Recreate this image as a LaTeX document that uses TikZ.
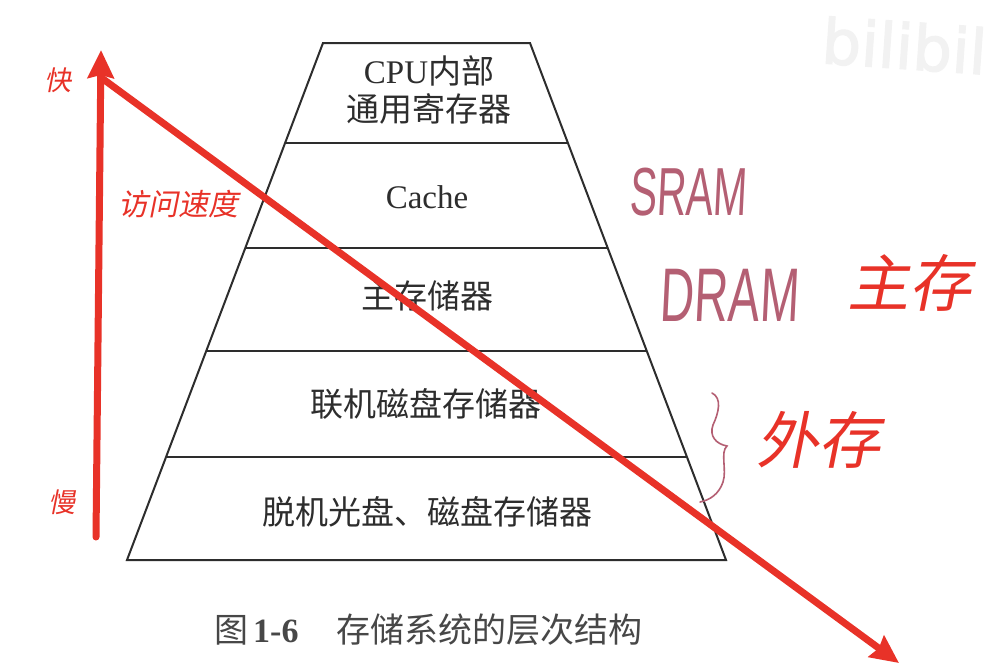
\documentclass[tikz,border=0pt]{standalone}
\usepackage{fontspec}
\usetikzlibrary{arrows.meta}
\setmainfont{Liberation Serif}
\newfontfamily\cjk{Noto Sans CJK SC}
\newfontfamily\cjkslant[FakeSlant=0.2]{Noto Sans CJK SC}
\newfontfamily\handfont[FakeSlant=0.08]{Liberation Sans}
\newfontfamily\wmfont[FakeBold=2]{DejaVu Sans}
\definecolor{annred}{RGB}{232,50,40}
\definecolor{ink}{RGB}{45,45,45}
\definecolor{handink}{RGB}{180,95,115}
\begin{document}
\begin{tikzpicture}[x=1pt,y=-1pt,
  edge/.style={draw=ink, line width=2pt, line join=miter},
  layertext/.style={font=\cjk\fontsize{33}{40}\selectfont, text=ink, inner sep=0pt, align=center},
  redlabel/.style={font=\cjkslant\fontsize{#1}{#1}\selectfont, text=annred, inner sep=0pt},
  redarrow/.style={draw=annred, line width=7pt, line cap=round,
    -{Stealth[length=28pt,width=26pt,inset=3pt]}},
  handtext/.style={text=handink, inner sep=0pt}]
\useasboundingbox (0,0) rectangle (988,664);
\fill[white] (0,0) rectangle (988,664);
% watermark
\node[text=black!5, font=\wmfont\fontsize{62}{62}\selectfont, rotate=-4, anchor=west, inner sep=0pt] (wm) at (822,40) {bilibili};
% pyramid corners
\coordinate (t0l) at (323,43);   \coordinate (t0r) at (530,43);
\coordinate (t1l) at (285.1,143); \coordinate (t1r) at (567.9,143);
\coordinate (t2l) at (245.3,248); \coordinate (t2r) at (607.7,248);
\coordinate (t3l) at (206.2,351); \coordinate (t3r) at (646.8,351);
\coordinate (t4l) at (166.1,457); \coordinate (t4r) at (686.9,457);
\coordinate (t5l) at (127,560);   \coordinate (t5r) at (726,560);
\draw[edge] (t0l) -- (t0r) -- (t5r) -- (t5l) -- cycle;
\draw[edge] (t1l) -- (t1r);
\draw[edge] (t2l) -- (t2r);
\draw[edge] (t3l) -- (t3r);
\draw[edge] (t4l) -- (t4r);
% layer texts
\node[layertext] (l1) at (429,90) {{\rmfamily CPU}内部\\[-2pt]通用寄存器};
\node[layertext, font=\rmfamily\fontsize{33}{40}\selectfont] (l2) at (427,197) {Cache};
\node[layertext] (l3) at (427,296) {主存储器};
\node[layertext] (l4) at (426,404) {联机磁盘存储器};
\node[layertext] (l5) at (427,512) {脱机光盘、磁盘存储器};
% caption
\node[font=\cjk\fontsize{34}{40}\selectfont, text=black!72, anchor=west, inner sep=0pt] (cap) at (214,630)
  {图\hspace{5pt}{\rmfamily\bfseries 1-6}\hspace{38pt}存储系统的层次结构};
% handwritten notes
\node[handtext] (sram) at (688,192) {\scalebox{0.6}[1]{\handfont\fontsize{68}{68}\selectfont SRAM}};
\node[handtext] (dram) at (729,295) {\scalebox{0.62}[1]{\handfont\fontsize{76}{76}\selectfont DRAM}};
\draw[handink, line width=1.6pt, line cap=round]
  (712,393) .. controls (722,398) and (719,412) .. (713,425)
  .. controls (709,436) and (716,444) .. (727,446)
  .. controls (720,452) and (727,470) .. (723,482)
  .. controls (719,494) and (710,500) .. (700,502);
% red annotations
\coordinate (slow) at (96,537);
\coordinate (fast) at (101,50);
\coordinate (d0) at (103,79);
\coordinate (d1) at (899,663);
\draw[redarrow] (slow) -- (fast);
\draw[redarrow] (d0) -- (d1);
\node[redlabel=27] (kuai) at (58,80) {快};
\node[redlabel=30] (speed) at (178,204) {访问速度};
\node[redlabel=27] (man) at (62,502) {慢};
\node[redlabel=62] (zhucun) at (909,283) {主存};
\node[redlabel=62] (waicun) at (818,440) {外存};
\end{tikzpicture}
\end{document}
